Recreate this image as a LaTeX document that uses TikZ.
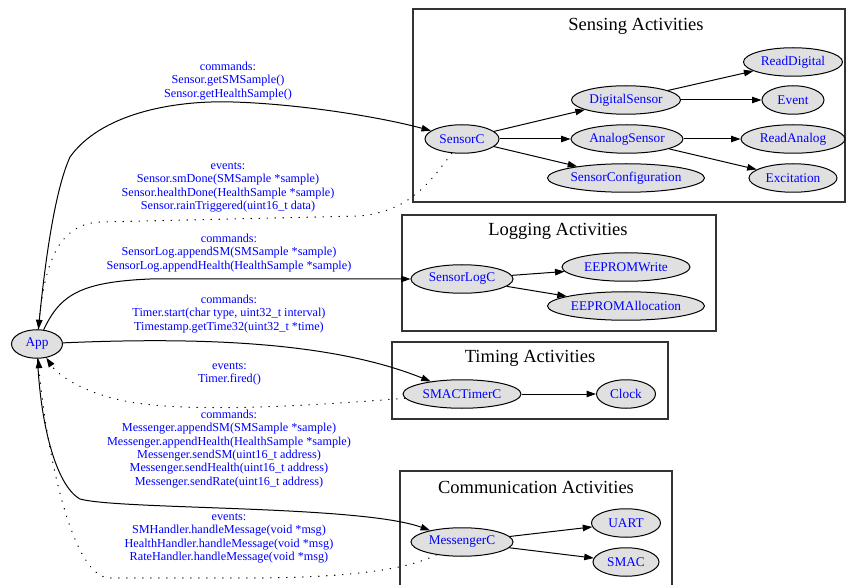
\documentclass[tikz,border=0pt]{standalone}
\usepackage{fontspec}
\setmainfont{Liberation Serif}
\usetikzlibrary{arrows.meta,shapes.geometric}

\begin{document}
\begin{tikzpicture}[
  x=1pt, y=-1pt,
  comp/.style={ellipse, draw=black, line width=1pt, fill=black!12, text=blue,
               font=\fontsize{13.3}{16}\selectfont, inner xsep=0pt, inner ysep=1pt,
               minimum height=28.5pt},
  cluster/.style={draw=black!80, line width=1.1pt},
  title/.style={font=\fontsize{18.5}{22}\selectfont, inner sep=0pt},
  lab/.style={text=blue, align=center, font=\fontsize{12.2}{13.3}\selectfont, inner sep=0pt},
  arr/.style={-{Triangle[length=9.5pt,width=6.5pt]}, draw=black, line width=1pt},
  ev/.style={arr, dash pattern=on 0.5pt off 7.5pt, line cap=round, line width=1.1pt}
]
\useasboundingbox (0,0) rectangle (846,585);

% clusters
\draw[cluster] (413,9) rectangle (845,202);
\draw[cluster] (402,215) rectangle (716,331);
\draw[cluster] (392,342) rectangle (668,419);
\draw[cluster] (400,590) |- (672,471) -- (672,590);
\node[title] (sensingt) at (636,26) {Sensing Activities};
\node[title] (loggingt) at (558,231) {Logging Activities};
\node[title] (timingt) at (530,358) {Timing Activities};
\node[title] (commt) at (536,487) {Communication Activities};

% components
\node[comp, minimum width=51pt] (app) at (37,344) {App};
\node[comp, minimum width=74pt] (sensorc) at (462,139) {SensorC};
\node[comp, minimum width=109pt] (digital) at (626,100) {DigitalSensor};
\node[comp, minimum width=112pt] (analog) at (627,139) {AnalogSensor};
\node[comp, minimum width=157pt] (sensorconf) at (626,178) {SensorConfiguration};
\node[comp, minimum width=99pt] (readdigital) at (793,62) {ReadDigital};
\node[comp, minimum width=62pt] (event) at (793,100) {Event};
\node[comp, minimum width=104pt] (readanalog) at (793,139) {ReadAnalog};
\node[comp, minimum width=88pt] (excitation) at (793,178) {Excitation};
\node[comp, minimum width=102pt] (sensorlogc) at (462,279) {SensorLogC};
\node[comp, minimum width=128pt] (eepromwrite) at (626,267) {EEPROMWrite};
\node[comp, minimum width=157pt] (eepromalloc) at (626,306) {EEPROMAllocation};
\node[comp, minimum width=118pt] (timerc) at (462,394) {SMACTimerC};
\node[comp, minimum width=59pt] (clock) at (626,394) {Clock};
\node[comp, minimum width=102pt] (messengerc) at (462,542) {MessengerC};
\node[comp, minimum width=69pt] (uart) at (626,523) {UART};
\node[comp, minimum width=66pt] (smac) at (626,562) {SMAC};

% interface labels
\node[lab] (sensorcmd) at (228,81) {commands:\\Sensor.getSMSample()\\Sensor.getHealthSample()};
\node[lab] (sensorev) at (228,187.5) {events:\\Sensor.smDone(SMSample *sample)\\Sensor.healthDone(HealthSample *sample)\\Sensor.rainTriggered(uint16\_t data)};
\node[lab] (logcmd) at (229,253) {commands:\\SensorLog.appendSM(SMSample *sample)\\SensorLog.appendHealth(HealthSample *sample)};
\node[lab] (timercmd) at (229,314) {commands:\\Timer.start(char type, uint32\_t interval)\\Timestamp.getTime32(uint32\_t *time)};
\node[lab] (timerev) at (229.5,374) {events:\\Timer.fired()};
\node[lab] (msgcmd) at (229,449) {commands:\\Messenger.appendSM(SMSample *sample)\\Messenger.appendHealth(HealthSample *sample)\\Messenger.sendSM(uint16\_t address)\\Messenger.sendHealth(uint16\_t address)\\Messenger.sendRate(uint16\_t address)};
\node[lab] (msgev) at (229,538.5) {events:\\SMHandler.handleMessage(void *msg)\\HealthHandler.handleMessage(void *msg)\\RateHandler.handleMessage(void *msg)};

% App <-> components
\draw[arr] (app) .. controls (45,260) and (55,190) .. (70,157)
  .. controls (100,115) and (170,100) .. (233,102)
  .. controls (300,104) and (380,117) .. (sensorc);
\draw[ev] (sensorc) .. controls (425,190) and (405,211) .. (360,216) -- (100,222)
  .. controls (60,224) and (45,260) .. (app);
\draw[arr] (app) .. controls (60,295) and (80,282) .. (150,279) -- (sensorlogc);
\draw[arr] (app) .. controls (220,336) and (340,345) .. (timerc);
\draw[ev] (timerc) .. controls (330,404) and (200,414) .. (130,402)
  .. controls (90,395) and (60,378) .. (app);
\draw[arr] (app) .. controls (40,420) and (55,485) .. (80,499)
  .. controls (120,510) and (360,505) .. (messengerc);
\draw[ev] (messengerc) .. controls (410,568) and (360,577) .. (260,578) -- (110,578)
  .. controls (70,578) and (45,440) .. (app);

% inside the clusters
\draw[arr] (sensorc) -- (digital);
\draw[arr] (sensorc) -- (analog);
\draw[arr] (sensorc) -- (sensorconf);
\draw[arr] (digital) -- (readdigital);
\draw[arr] (digital) -- (event);
\draw[arr] (analog) -- (readanalog);
\draw[arr] (analog) -- (excitation);
\draw[arr] (sensorlogc) -- (eepromwrite);
\draw[arr] (sensorlogc) -- (eepromalloc);
\draw[arr] (timerc) -- (clock);
\draw[arr] (messengerc) -- (uart);
\draw[arr] (messengerc) -- (smac);
\end{tikzpicture}
\end{document}
